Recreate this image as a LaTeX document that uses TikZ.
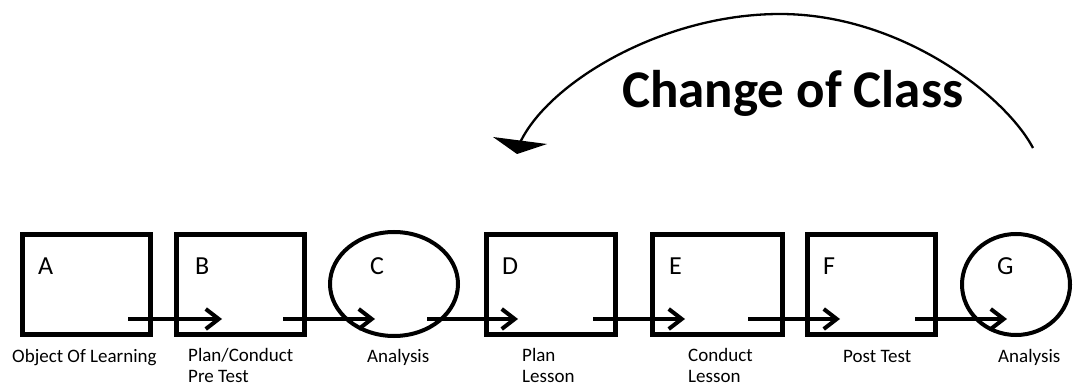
\documentclass[tikz,border=0pt]{standalone}
\usepackage{fontspec}
\setmainfont{Carlito}
\usetikzlibrary{arrows.meta,shapes.geometric}
\begin{document}
\begin{tikzpicture}[x=1pt,y=-1pt,
  stagebox/.style={draw, line width=5pt, minimum width=128pt, minimum height=100pt, inner sep=0pt},
  stageoval/.style={draw, ellipse, line width=4pt, inner sep=0pt},
  letter/.style={anchor=base west, inner sep=0pt, font=\fontsize{26}{32}\selectfont},
  caption/.style={anchor=base west, inner sep=0pt, align=left, font=\fontsize{19}{21}\selectfont},
  flow/.style={line width=4pt, -{Straight Barb[length=13pt,width=20pt]}},
  loopline/.style={line width=2.3pt}
]
\useasboundingbox (0,0) rectangle (1081,387);

% stages
\node[stagebox] (A) at (86.5,284.5) {};
\node[stagebox] (B) at (240.5,284.5) {};
\node[stageoval, minimum width=128pt, minimum height=104pt] (C) at (394,284) {};
\node[stagebox, minimum width=129pt] (D) at (551,284.5) {};
\node[stagebox, minimum width=130pt] (E) at (717.5,284.5) {};
\node[stagebox] (F) at (871.5,284.5) {};
\node[stageoval, minimum width=108pt, minimum height=101pt] (G) at (1016,284.5) {};

% letters
\node[letter] (lA) at (38,275) {A};
\node[letter] (lB) at (195,275) {B};
\node[letter] (lC) at (370,275) {C};
\node[letter] (lD) at (502,275) {D};
\node[letter] (lE) at (669,275) {E};
\node[letter] (lF) at (823,275) {F};
\node[letter] (lG) at (997,275) {G};

% captions (base anchor = baseline of last line)
\node[caption] (tA) at (12,362) {Object Of Learning};
\node[caption] (tB) at (188,382) {Plan/Conduct\\Pre Test};
\node[caption] (tC) at (367,362) {Analysis};
\node[caption] (tD) at (522,382) {Plan\\Lesson};
\node[caption] (tE) at (688,382) {Conduct\\Lesson};
\node[caption] (tF) at (843,362) {Post Test};
\node[caption] (tG) at (998,362) {Analysis};

% flow arrows
\coordinate (a1) at (128,319);  \coordinate (b1) at (222,319);
\coordinate (a2) at (283,319);  \coordinate (b2) at (375,319);
\coordinate (a3) at (427,319);  \coordinate (b3) at (518,319);
\coordinate (a4) at (593,319);  \coordinate (b4) at (685,319);
\coordinate (a5) at (748,319);  \coordinate (b5) at (840,319);
\coordinate (a6) at (915,319);  \coordinate (b6) at (1007,319);
\draw[flow] (a1) -- (b1);
\draw[flow] (a2) -- (b2);
\draw[flow] (a3) -- (b3);
\draw[flow] (a4) -- (b4);
\draw[flow] (a5) -- (b5);
\draw[flow] (a6) -- (b6);

% change of class
\node[anchor=base west, inner sep=0pt, font=\fontsize{53}{60}\selectfont\bfseries] (title) at (622,108) {Change of Class};
\coordinate (cs) at (1033,148);
\coordinate (ctop) at (780,14);
\coordinate (ce) at (519,145);
\draw[loopline] (cs) .. controls (1005,95) and (900,14) .. (ctop) .. controls (660,14) and (545,85) .. (ce);
\fill (493,137) -- (547,144) -- (517,154) -- cycle;
\end{tikzpicture}
\end{document}
